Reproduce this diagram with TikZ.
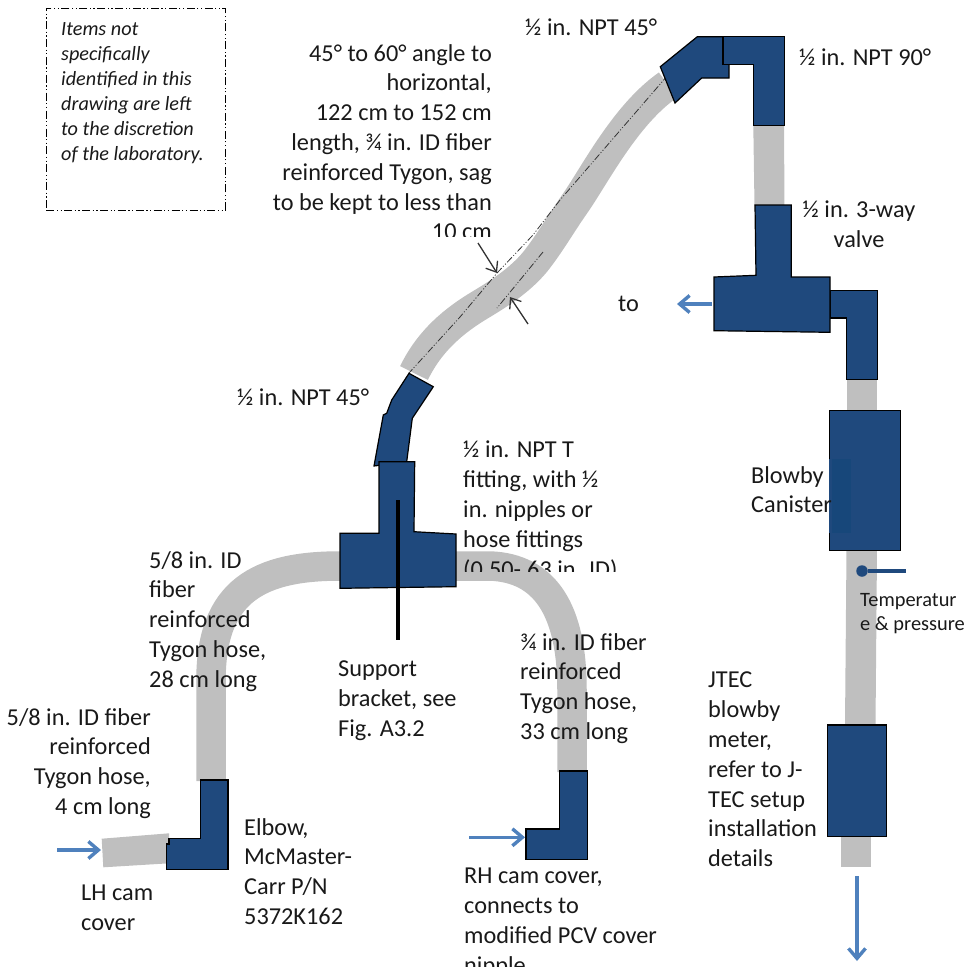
\documentclass[tikz,border=0pt]{standalone}
\usepackage{fontspec}
\setmainfont{Carlito}
\usetikzlibrary{arrows.meta}
\definecolor{hosegray}{HTML}{BFBFBF}
\definecolor{fitblue}{HTML}{1F497D}
\definecolor{fitdark}{HTML}{17477A}
\definecolor{flowblue}{HTML}{4F81BD}
\tikzset{
  hose/.style={draw=hosegray,line width=29.5pt},
  hosefill/.style={fill=hosegray},
  fitting/.style={draw=black,fill=fitblue,line width=1.2pt,line join=miter},
  flow/.style={draw=flowblue,line width=3.4pt,-{Straight Barb[length=10pt,width=17pt,line width=3.4pt]}},
  centerline/.style={draw=black!80,line width=0.8pt,dash pattern=on 7pt off 2pt on 1pt off 2pt on 1pt off 2pt},
  gauge/.style={draw=black!80,line width=1.3pt,-{Straight Barb[length=9pt,width=14pt,line width=1.3pt]}},
  lab/.style={inner sep=0pt,font=\fontsize{24.3pt}{29.8pt}\selectfont,text=black!90},
  labl/.style={lab,align=left,anchor=north west},
  labr/.style={lab,align=right,anchor=north east},
  labc/.style={lab,align=center,anchor=north},
  note/.style={inner sep=0pt,align=left,anchor=north west,font=\fontsize{20.2pt}{25pt}\selectfont\itshape,text=black!90},
  small/.style={inner sep=0pt,align=left,anchor=north west,font=\fontsize{20.4pt}{24pt}\selectfont,text=black!90},
}
\begin{document}
\begin{tikzpicture}[x=1pt,y=-1pt]
\useasboundingbox (0,0) rectangle (966,970);
% hoses
\draw[hose,line width=31pt] (414,373) .. controls (430,340) and (455,320) .. (480,305)
  .. controls (500,293) and (520,280) .. (535,262)
  .. controls (550,243) and (560,225) .. (574,205)
  .. controls (595,175) and (625,115) .. (668,85);
\fill[hosefill] (753.3,125) -- (784,125) -- (784.5,206) -- (754.5,206) -- cycle;
\fill[hosefill] (847,379) rectangle (877,411);
\fill[hosefill] (846.5,550) -- (877,550) -- (875.5,726) -- (845,726) -- cycle;
\fill[hosefill] (840.7,836) rectangle (871,866.7);
\draw[hose] (340,566) .. controls (260,566) and (211,590) .. (211,680) -- (211,781);
\draw[hose] (456,566) -- (490,566) .. controls (545,568) and (572,610) .. (572,690) -- (572,772);
\fill[hosefill] (101.7,838.7) -- (169,833.3) -- (169,863.3) -- (103.3,867.3) -- cycle;
% centre lines of the long hose
\draw[centerline] (668,75) -- (560,200) -- (533,235) -- (497,273) -- (460,317) -- (409,373);
\draw[centerline] (543,252) -- (497,308);
% fittings
\draw[fitting] (660.3,66.7) -- (697.3,36.7) -- (723,36.7) -- (723,64.3) -- (729,64.3) -- (729,78) -- (701.7,78) -- (675,103) -- cycle;
\draw[fitting] (723,36.7) -- (784.7,36.7) -- (784.7,125.7) -- (753.3,125.7) -- (753.3,64.3) -- (723,64.3) -- cycle;
\draw[fitting] (830,290.3) -- (877.7,290.3) -- (877.7,379.3) -- (846.7,379.3) -- (846.7,318) -- (830,318) -- cycle;
\draw[fitting] (755,205) -- (791.3,205) -- (791.3,277) -- (830,277) -- (830,332.3) -- (714,330.7) -- (714,277) -- (756,275.3) -- cycle;
\draw[fitting] (829.7,410.7) rectangle (900.3,550.3);
\fill[fitblue] (829,459.3) rectangle (832,532.7);
\fill[fitdark] (831.7,459.3) rectangle (851,532.7);
\draw[fitting] (827.3,725) rectangle (886.7,836.7);
\draw[fitting] (409,373.3) -- (433.3,386.7) -- (412.3,418.3) -- (406.7,461.7) -- (374,466) -- (383.3,415) -- (386.7,413.3) -- (391.7,400) -- cycle;
\draw[fitting] (379,461.7) -- (414.7,461.7) -- (414,531.7) -- (456,534) -- (456,586.7) -- (340,588.3) -- (340,533.3) -- (379,533.3) -- cycle;
\draw[fitting] (200.3,780) -- (228,780) -- (228,869.3) -- (166.3,869.3) -- (166.3,844) -- (169,844) -- (169,838.3) -- (200.3,838.3) -- cycle;
\draw[fitting] (559.7,771) -- (587.3,771) -- (587.3,859.3) -- (526,859.3) -- (526,829) -- (559.7,829) -- cycle;
% support bracket
\coordinate (brtop) at (398,500);
\coordinate (brbot) at (398,640);
\draw[black,line width=4.5pt] (brtop) -- (brbot);
% sensor
\coordinate (senseend) at (906,571);
\node[circle,fill=fitblue,inner sep=0pt,minimum size=11.5pt] (sense) at (862,571) {};
\draw[fitblue,line width=3.5pt] (sense) -- (senseend);
% gauge arrows
\coordinate (ga1) at (478,243); \coordinate (ga2) at (497,273);
\coordinate (gb1) at (528,324); \coordinate (gb2) at (510,297);
\draw[gauge] (ga1) -- (ga2);
\draw[gauge] (gb1) -- (gb2);
% flow arrows
\coordinate (f1a) at (57,850);   \coordinate (f1b) at (101,850);
\coordinate (f2a) at (469,837.3);\coordinate (f2b) at (525,837.3);
\coordinate (f3a) at (711.7,304);\coordinate (f3b) at (677,304);
\coordinate (f4a) at (857,876);  \coordinate (f4b) at (857,961);
\draw[flow] (f1a) -- (f1b);
\draw[flow] (f2a) -- (f2b);
\draw[flow] (f3a) -- (f3b);
\draw[flow] (f4a) -- (f4b);
% note
\node[draw=black,line width=1.2pt,dash pattern=on 8pt off 2.5pt on 1.2pt off 2.5pt on 1.2pt off 2.5pt,minimum width=179pt,minimum height=202pt,anchor=north west,inner sep=0pt] (notebox) at (45.7,7.7) {};
\node[note] (notetext) at (61,22) {Items not\\specifically\\identified in this\\drawing are left\\to the discretion\\of the laboratory.};
% labels
\begin{scope}
\clip (250,30) rectangle (500,236.5);
\node[labr] (hoselab) at (492,44) {45° to 60° angle to\\horizontal,\\122 cm to 152 cm\\length, ¾ in. ID fiber\\reinforced Tygon, sag\\to be kept to less than\\10 cm};
\end{scope}
\node[labl] (npt45a) at (525,19) {½ in. NPT 45°};
\node[labl] (npt90) at (799,49) {½ in. NPT 90°};
\node[labc] (valve) at (859,201) {½ in. 3-way\\valve};
\node[labl] (tolab) at (618,296) {to};
\node[labl] (npt45b) at (237,389) {½ in. NPT 45°};
\begin{scope}
\clip (455,430) rectangle (640,571);
\node[labl] (tlab) at (463,441) {½ in. NPT T\\fitting, with ½\\in. nipples or\\hose fittings\\(0.50-.63 in. ID)};
\end{scope}
\node[labl] (leftlab) at (149,551) {5/8 in. ID\\fiber\\reinforced\\Tygon hose,\\28 cm long};
\node[labl] (bracket) at (338,661) {Support\\bracket, see\\Fig. A3.2};
\node[labl] (rightlab) at (520,633) {¾ in. ID fiber\\reinforced\\Tygon hose,\\33 cm long};
\node[labr] (shortlab) at (151,708) {5/8 in. ID fiber\\reinforced\\Tygon hose,\\4 cm long};
\node[labl] (elbow) at (244,818) {Elbow,\\McMaster-\\Carr P/N\\5372K162};
\node[labl] (lhcam) at (81,885) {LH cam\\cover};
\begin{scope}
\clip (455,860) rectangle (680,966);
\node[labl] (rhcam) at (464,868) {RH cam cover,\\connects to\\modified PCV cover\\nipple};
\end{scope}
\node[labl] (jtec) at (708,672) {JTEC\\blowby\\meter,\\refer to J-\\TEC setup\\installation\\details};
\node[labl] (canister) at (751,466) {Blowby\\Canister};
\node[small] (temp) at (860,593) {Temperatur\\e \& pressure};
\end{tikzpicture}
\end{document}
